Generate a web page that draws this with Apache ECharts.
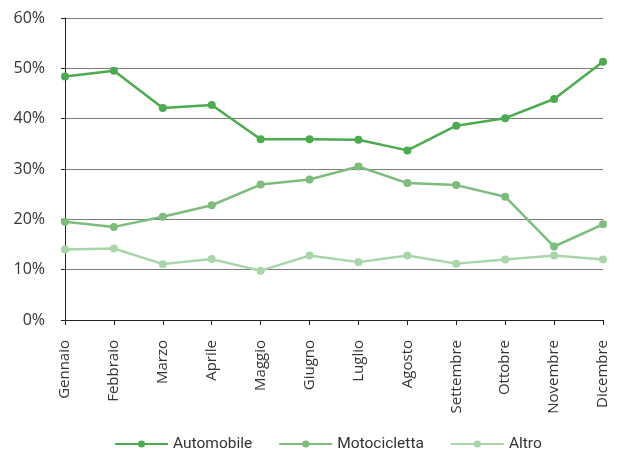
<!DOCTYPE html>
<html>
<head>
<meta charset="utf-8">
<script src="https://cdn.jsdelivr.net/npm/echarts@6/dist/echarts.min.js"></script>
<style>
  html, body { margin: 0; padding: 0; background: #fff; }
  #chart { width: 640px; height: 472px; }
</style>
</head>
<body>
<div id="chart"></div>
<script>
// Monthly share by vehicle type (%)
const months = ['Gennaio', 'Febbraio', 'Marzo', 'Aprile', 'Maggio', 'Giugno',
  'Luglio', 'Agosto', 'Settembre', 'Ottobre', 'Novembre', 'Dicembre'];
const automobile = [48.4, 49.5, 42.1, 42.7, 35.9, 35.9, 35.8, 33.7, 38.6, 40.1, 43.9, 51.3];
const motocicletta = [19.5, 18.5, 20.5, 22.8, 26.9, 27.9, 30.5, 27.2, 26.8, 24.5, 14.6, 19.0];
const altro = [14.0, 14.2, 11.1, 12.1, 9.8, 12.8, 11.5, 12.8, 11.2, 12.0, 12.8, 12.0];

const seriesNames = ['Automobile', 'Motocicletta', 'Altro'];
const seriesData = [automobile, motocicletta, altro];
const colors = ['#4caa4f', '#7cbd7c', '#a9d6a8'];

const chart = echarts.init(document.getElementById('chart'), null, { renderer: 'canvas' });
chart.setOption({
  animation: false,
  grid: { left: 65, right: 37, top: 18, bottom: 152, containLabel: false },
  legend: {
    top: 436,
    left: 114,
    padding: 0,
    itemWidth: 53,
    itemHeight: 9,
    itemGap: 26,
    textStyle: { fontFamily: 'Roboto', fontSize: 15.5, color: '#333' },
    data: seriesNames
  },
  xAxis: {
    type: 'category',
    data: months,
    boundaryGap: false,
    axisLine: { lineStyle: { color: '#222', width: 1 } },
    axisTick: { show: true, length: 5, alignWithLabel: true, lineStyle: { color: '#222' } },
    axisLabel: { rotate: 90, margin: 20, fontSize: 15, color: '#333', fontFamily: 'Open Sans', interval: 0 },
    splitLine: { show: false }
  },
  yAxis: {
    type: 'value',
    min: 0,
    max: 60,
    interval: 10,
    axisLine: { show: true, lineStyle: { color: '#222', width: 1 } },
    axisTick: { show: true, length: 4, lineStyle: { color: '#222' } },
    axisLabel: { formatter: '{value}%', margin: 20, fontSize: 16, color: '#333', fontFamily: 'Open Sans' },
    splitLine: { show: true, lineStyle: { color: '#7a7a7a', width: 1 } }
  },
  series: seriesNames.map((name, i) => ({
    name: name,
    type: 'line',
    data: seriesData[i],
    symbol: 'circle',
    symbolSize: 8,
    lineStyle: { width: 2.5, color: colors[i] },
    itemStyle: { color: colors[i] },
    z: 10 - i
  }))
});
</script>
</body>
</html>
